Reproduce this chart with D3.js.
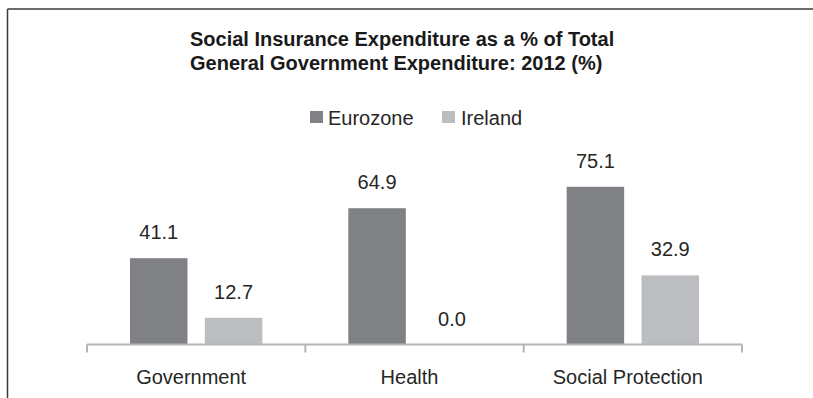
<!DOCTYPE html>
<html>
<head>
<meta charset="utf-8">
<script src="https://cdn.jsdelivr.net/npm/d3@7"></script>
<style>
  html, body { margin: 0; padding: 0; background: #fff; }
  svg { display: block; }
  text { font-family: "Liberation Sans", Arial, sans-serif; fill: #262626; }
</style>
</head>
<body>
<svg id="chart" width="813" height="398"></svg>
<script>
const titleLines = ["Social Insurance Expenditure as a % of Total", "General Government Expenditure: 2012 (%)"];
const categories = ["Government", "Health", "Social Protection"];
const seriesNames = ["Eurozone", "Ireland"];
const eurozone = [41.1, 64.9, 75.1];
const ireland = [12.7, 0.0, 32.9];
const colors = ["#808185", "#bcbdc1"];

const seriesValues = [eurozone, ireland];
const data = categories.map((c, i) => ({
  category: c,
  values: seriesNames.map((s, j) => ({ series: s, value: seriesValues[j][i] }))
}));

const svg = d3.select("#chart");

// frame
svg.append("line").attr("x1", 7.5).attr("x2", 813).attr("y1", 9).attr("y2", 9)
  .attr("stroke", "#3a3a3a").attr("stroke-width", 1.5);
svg.append("line").attr("x1", 7.5).attr("x2", 7.5).attr("y1", 9).attr("y2", 398)
  .attr("stroke", "#3a3a3a").attr("stroke-width", 1.5);

// title
svg.append("text")
  .attr("x", 190).attr("y", 46)
  .style("font-size", "20px").style("font-weight", "bold").style("fill", "#1a1a1a")
  .selectAll("tspan").data(titleLines).join("tspan")
  .attr("x", 190).attr("dy", (d, i) => i === 0 ? 0 : 23.5)
  .text(d => d);

// scales
const x0 = d3.scaleBand().domain(categories).range([87, 742]).paddingInner(0).paddingOuter(0);
const bw = x0.bandwidth();
const x1 = d3.scaleBand().domain(seriesNames).range([43, bw - 43]).paddingInner(0.232);
const y = d3.scaleLinear().domain([0, 80]).range([344.5, 176.5]);
const color = d3.scaleOrdinal().domain(seriesNames).range(colors);

// bars
const groups = svg.append("g").selectAll("g").data(data).join("g")
  .attr("transform", d => `translate(${x0(d.category)},0)`);

groups.selectAll("rect").data(d => d.values).join("rect")
  .attr("x", d => x1(d.series))
  .attr("width", x1.bandwidth())
  .attr("y", d => y(d.value))
  .attr("height", d => y(0) - y(d.value))
  .attr("fill", d => color(d.series));

groups.selectAll("text.val").data(d => d.values).join("text")
  .attr("class", "val")
  .attr("x", d => x1(d.series) + x1.bandwidth() / 2)
  .attr("y", d => y(d.value) - 19)
  .attr("text-anchor", "middle")
  .style("font-size", "20px")
  .text(d => d3.format(".1f")(d.value));

// axis
const axis = svg.append("g").attr("transform", `translate(0,${y(0)})`);
axis.append("line").attr("x1", 87).attr("x2", 742).attr("y1", 0).attr("y2", 0)
  .attr("stroke", "#b4b5b8").attr("stroke-width", 2);
const tickPos = categories.map(c => x0(c)).concat([x0(categories[categories.length - 1]) + bw]);
axis.selectAll("line.tick").data(tickPos).join("line")
  .attr("class", "tick")
  .attr("x1", d => d).attr("x2", d => d).attr("y1", 0).attr("y2", 8)
  .attr("stroke", "#b4b5b8").attr("stroke-width", 2);
axis.selectAll("text").data(categories).join("text")
  .attr("x", d => x0(d) + bw / 2 - 5)
  .attr("y", 39.5)
  .attr("text-anchor", "middle")
  .style("font-size", "20px")
  .text(d => d);

// legend
const legend = svg.append("g");
const legendX = [310, 442];
const legendItems = legend.selectAll("g").data(seriesNames).join("g")
  .attr("transform", (d, i) => `translate(${legendX[i]},111)`);
legendItems.append("rect").attr("width", 13).attr("height", 12).attr("fill", d => color(d));
legendItems.append("text").attr("x", d => d === "Eurozone" ? 18 : 19).attr("y", 13.5)
  .style("font-size", "20px").text(d => d);
</script>
</body>
</html>
